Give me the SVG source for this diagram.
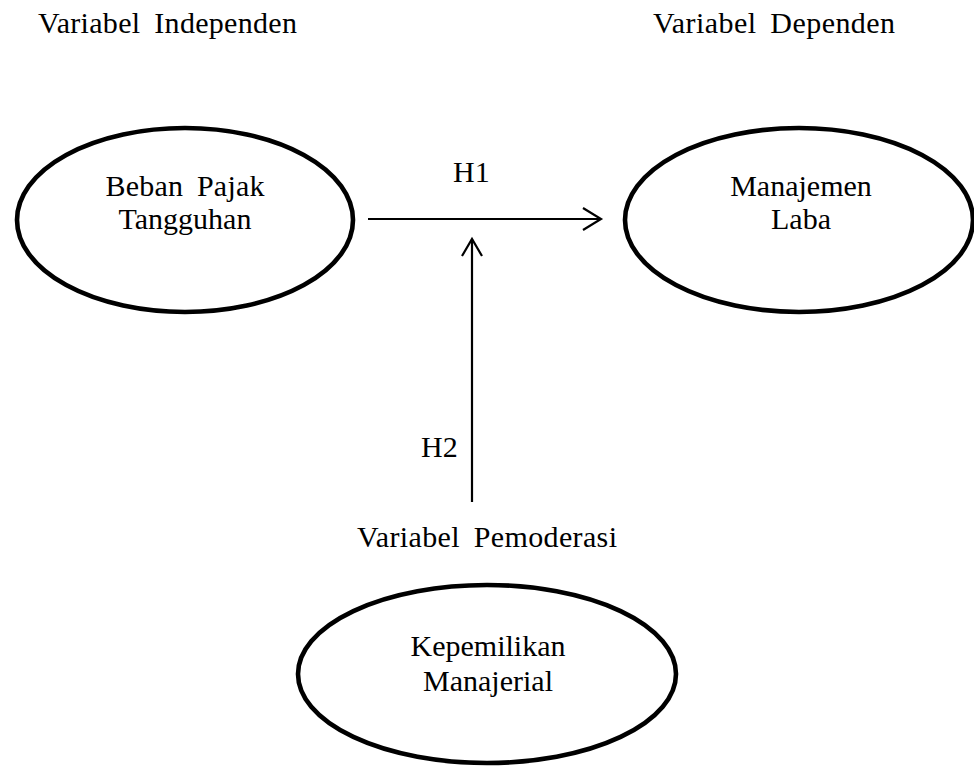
<svg xmlns="http://www.w3.org/2000/svg" width="974" height="766" viewBox="0 0 974 766">
<style>
text{font-family:"Liberation Serif","Times New Roman",serif;font-size:30px;fill:#000;word-spacing:6px}
.lbl{text-anchor:start}
.c{text-anchor:middle}
.node{fill:#fff;stroke:#000;stroke-width:4.6}
.conn{fill:none;stroke:#000;stroke-width:2.2}
</style>
<rect width="974" height="766" fill="#fff"/>
<g id="labels">
<text class="lbl" x="38" y="33" textLength="259" lengthAdjust="spacing">Variabel Independen</text>
<text class="lbl" x="653" y="33" textLength="242" lengthAdjust="spacing">Variabel Dependen</text>
<text class="lbl" x="357" y="547" textLength="260" lengthAdjust="spacing">Variabel Pemoderasi</text>
</g>
<g id="connectors">
<g id="h1">
<line class="conn" x1="368" y1="219" x2="601" y2="219"/>
<polyline class="conn" points="583,208 601,219 583,230"/>
<text class="lbl" x="453" y="182">H1</text>
</g>
<g id="h2">
<line class="conn" x1="472" y1="239" x2="472" y2="502"/>
<polyline class="conn" points="462,256 472,239 482,256"/>
<text class="lbl" x="421" y="457">H2</text>
</g>
</g>
<g id="node-beban">
<ellipse class="node" cx="185" cy="220" rx="168" ry="92"/>
<text class="c" x="185" y="196" textLength="159" lengthAdjust="spacing">Beban Pajak</text>
<text class="c" x="185" y="229">Tangguhan</text>
</g>
<g id="node-manajemen">
<ellipse class="node" cx="799" cy="220" rx="174" ry="92"/>
<text class="c" x="801" y="196">Manajemen</text>
<text class="c" x="801" y="229">Laba</text>
</g>
<g id="node-kepemilikan">
<ellipse class="node" cx="487" cy="674" rx="189" ry="89"/>
<text class="c" x="488" y="656">Kepemilikan</text>
<text class="c" x="488" y="691">Manajerial</text>
</g>
</svg>
